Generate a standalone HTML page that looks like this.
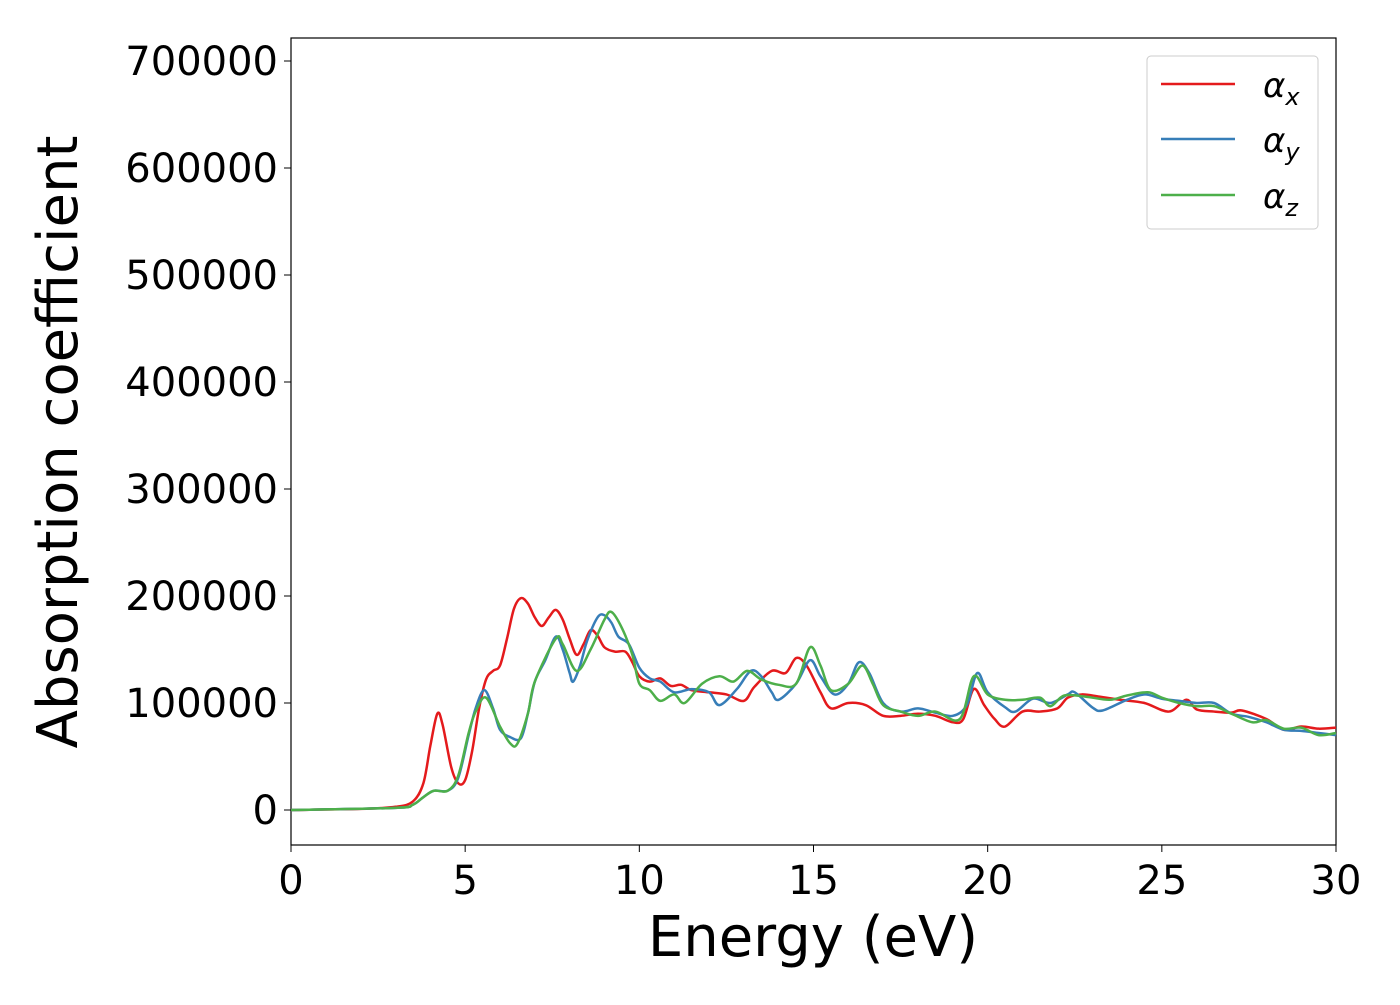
<!DOCTYPE html>
<html><head><meta charset="utf-8"><style>
body{margin:0;background:#fff;}
svg text{font-family:"DejaVu Sans","Liberation Sans",sans-serif;fill:#000;}
</style></head><body>
<svg id="chart" width="1400" height="1000" viewBox="0 0 1400 1000">
<rect x="291" y="38" width="1045" height="807" fill="#fff" stroke="#000" stroke-width="1.2"/>
<g id="xticks"></g>
<g id="yticks"></g>
<g id="series"></g>
<text x="813" y="956" font-size="56" text-anchor="middle">Energy (eV)</text>
<text transform="translate(77,442) rotate(-90)" font-size="56" text-anchor="middle">Absorption coefficient</text>
<g>
<rect x="1147" y="56" width="171" height="173" rx="4" fill="#fff" stroke="#ccc" stroke-width="1"/>
<g><line x1="1161" x2="1235" y1="84" y2="84" stroke="#e41a1c" stroke-width="2.5"/><text x="1263" y="97" font-size="34" font-style="italic">α<tspan font-size="24" dy="8">x</tspan></text></g>
<g><line x1="1161" x2="1235" y1="139" y2="139" stroke="#377eb8" stroke-width="2.5"/><text x="1263" y="152" font-size="34" font-style="italic">α<tspan font-size="24" dy="8">y</tspan></text></g>
<g><line x1="1161" x2="1235" y1="195" y2="195" stroke="#4daf4a" stroke-width="2.5"/><text x="1263" y="208" font-size="34" font-style="italic">α<tspan font-size="24" dy="8">z</tspan></text></g>
</g>
</svg>
<script>
const xTicks=[0,5,10,15,20,25,30];
const yTicks=[0,100000,200000,300000,400000,500000,600000,700000];
const redE=[0,2,3,3.5,3.8,4.0,4.2,4.35,4.6,4.8,5.0,5.2,5.4,5.6,5.8,6.0,6.2,6.4,6.6,6.8,7.0,7.2,7.4,7.6,7.8,8.0,8.2,8.4,8.6,8.8,9.0,9.3,9.6,9.8,10.0,10.3,10.6,10.9,11.2,11.5,12.0,12.5,13.0,13.3,13.8,14.2,14.5,14.8,15.2,15.5,16.0,16.5,17.0,17.5,18.0,18.5,19.0,19.3,19.6,19.9,20.2,20.5,21.0,21.5,22.0,22.3,22.7,23.2,23.8,24.5,25.2,25.7,26.0,26.5,27.0,27.3,28.0,28.5,29.0,29.5,30];
const redV=[0,1,3,8,25,60,90,80,40,25,28,55,95,122,130,135,160,188,198,193,180,172,180,187,178,160,145,155,168,163,152,148,148,138,125,120,123,116,117,112,110,108,102,115,130,128,142,135,110,95,100,98,88,88,90,88,82,85,113,98,85,78,92,92,95,105,108,106,103,100,92,103,94,92,91,93,85,75,78,76,77];
const blueE=[0,3,3.5,3.8,4.1,4.5,4.8,5.1,5.3,5.55,5.8,6.0,6.3,6.6,6.8,7.0,7.3,7.6,7.8,8.0,8.1,8.3,8.5,8.8,9.0,9.2,9.4,9.7,10.0,10.3,10.6,11.0,11.5,12.0,12.3,12.8,13.2,13.5,13.8,14.0,14.5,14.9,15.2,15.6,16.0,16.3,16.6,17.0,17.5,18.0,18.5,19.0,19.4,19.7,20.0,20.5,20.8,21.3,21.8,22.3,22.5,23.0,23.3,24.0,24.5,25.0,25.5,26.0,26.5,27.0,27.5,28.0,28.5,29.0,29.5,30];
const blueV=[0,2,5,12,18,18,30,70,95,112,95,75,68,67,90,120,140,162,150,128,120,135,158,180,182,175,162,155,133,123,120,110,113,110,98,113,130,125,110,103,118,140,125,108,118,138,128,100,92,95,91,88,98,128,110,96,92,104,100,108,110,96,93,103,108,104,102,100,100,90,87,82,75,74,72,70];
const greenE=[0,3,3.5,3.8,4.1,4.5,4.8,5.1,5.3,5.6,6.0,6.3,6.5,6.8,7.0,7.6,7.8,8.2,8.6,9.0,9.2,9.5,9.8,10.0,10.3,10.6,11.0,11.3,11.8,12.3,12.7,13.1,13.5,14.0,14.5,14.9,15.2,15.5,16.0,16.4,16.7,17.0,17.5,18.0,18.5,19.2,19.6,20.0,20.5,21.0,21.5,21.8,22.2,22.8,23.5,24.0,24.6,25.0,25.5,26.0,26.5,27.0,27.6,28.0,28.5,29.0,29.5,30];
const greenV=[0,2,5,12,18,18,32,72,92,105,78,62,62,90,120,160,155,130,150,178,185,170,145,118,112,102,108,100,118,125,120,130,122,117,118,152,135,112,118,135,118,98,92,88,92,85,125,108,103,103,105,97,107,106,103,107,110,105,100,97,97,90,82,84,76,77,70,72];
const X0=291,X1=1336,Y0=810,PPU=1.07/1000;
const xs=e=>X0+(e/30)*(X1-X0);
const ys=v=>Y0-v*PPU;
const NS='http://www.w3.org/2000/svg';
const xg=document.getElementById('xticks'),yg=document.getElementById('yticks'),sg=document.getElementById('series');
xTicks.forEach(t=>{
  const l=document.createElementNS(NS,'line');
  l.setAttribute('x1',xs(t));l.setAttribute('x2',xs(t));l.setAttribute('y1',845);l.setAttribute('y2',852);l.setAttribute('stroke','#000');
  
  
  xg.appendChild(l);
  const tx=document.createElementNS(NS,'text');
  tx.setAttribute('x',xs(t));tx.setAttribute('y',894);tx.setAttribute('font-size','40');tx.setAttribute('text-anchor','middle');
  tx.textContent=t;
  
  
  xg.appendChild(tx);
});
yTicks.forEach(t=>{
  const l=document.createElementNS(NS,'line');
  l.setAttribute('x1',284);l.setAttribute('x2',291);l.setAttribute('y1',ys(t));l.setAttribute('y2',ys(t));l.setAttribute('stroke','#000');
  
  
  yg.appendChild(l);
  const tx=document.createElementNS(NS,'text');
  tx.setAttribute('x',278);tx.setAttribute('y',ys(t)+14);tx.setAttribute('font-size','40');tx.setAttribute('text-anchor','end');
  tx.textContent=t;
  
  
  yg.appendChild(tx);
});
function pathFor(E,V){
  const p=E.map((e,i)=>[xs(e),ys(V[i]*1000)]);
  let d='M'+p[0][0]+','+p[0][1];
  for(let i=0;i<p.length-1;i++){
    const a=p[Math.max(0,i-1)],b=p[i],c=p[i+1],n=p[Math.min(p.length-1,i+2)];
    const c1=[b[0]+(c[0]-a[0])/6,b[1]+(c[1]-a[1])/6];
    const c2=[c[0]-(n[0]-b[0])/6,c[1]-(n[1]-b[1])/6];
    d+=' C'+c1[0]+','+c1[1]+' '+c2[0]+','+c2[1]+' '+c[0]+','+c[1];
  }
  return d;
}
[[redE,redV,'#e41a1c','series-alpha-x'],[blueE,blueV,'#377eb8','series-alpha-y'],[greenE,greenV,'#4daf4a','series-alpha-z']].forEach(s=>{
  const p=document.createElementNS(NS,'path');
  p.setAttribute('d',pathFor(s[0],s[1]));p.setAttribute('fill','none');p.setAttribute('stroke',s[2]);p.setAttribute('stroke-width','2.5');
  
  
  sg.appendChild(p);
});
</script>
</body></html>
